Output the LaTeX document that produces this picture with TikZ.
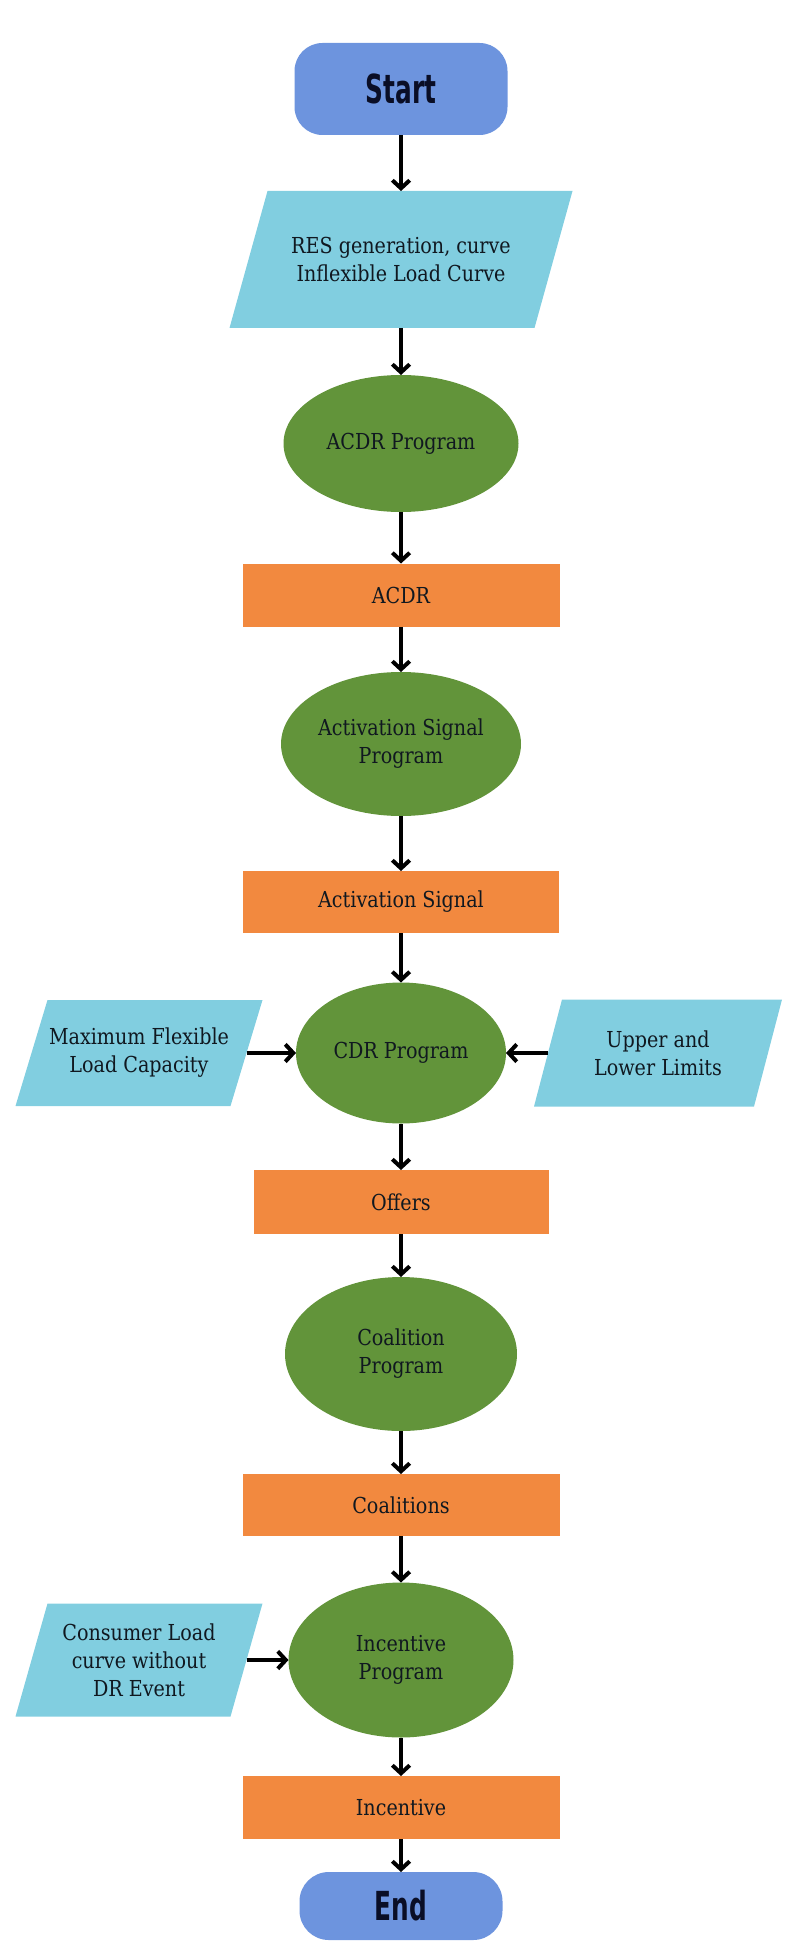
\documentclass[tikz,border=0pt]{standalone}
\usepackage{fontspec}
\setmainfont[FakeStretch=0.87]{DejaVu Serif}
\newfontfamily\termfont[FakeStretch=0.62]{DejaVu Sans}
\usetikzlibrary{shapes.geometric,arrows.meta,calc}
\pgfdeclarelayer{bg}
\pgfsetlayers{bg,main}
\definecolor{termblue}{HTML}{6D94DE}
\definecolor{inblue}{HTML}{81CEE0}
\definecolor{progreen}{HTML}{62943A}
\definecolor{outorange}{HTML}{F2893F}
\definecolor{txt}{HTML}{101820}
\definecolor{termtxt}{HTML}{0A0E26}
\begin{document}
\begin{tikzpicture}[x=0.75pt,y=-0.75pt,
  every node/.style={inner sep=0pt, outer sep=0pt, align=center,
    font=\fontsize{16.5}{21}\selectfont, text=txt},
  term/.style={rectangle, fill=termblue, rounded corners=21pt,
    font=\termfont\bfseries\fontsize{30}{30}\selectfont, text=termtxt},
  prog/.style={ellipse, fill=progreen},
  outbox/.style={rectangle, fill=outorange, minimum width=237.75pt, minimum height=47.25pt},
  inbox/.style={rectangle},
  arr/.style={line width=3pt, -{Straight Barb[length=6pt,width=13pt]}, black}
]
\useasboundingbox (0,0) rectangle (800,1947);

% terminals
\node[term, minimum width=159.75pt, minimum height=69pt] (start) at (401,89) {Start};
\node[term, minimum width=152.25pt, minimum height=51pt, rounded corners=22pt] (end) at (401,1906) {End};

% inputs (parallelograms)
\node[inbox, minimum width=228.75pt, minimum height=102.75pt] (res) at (401,259.5)
  {RES generation, curve\\ Inflexible Load Curve};
\node[inbox, minimum width=161.25pt, minimum height=79.5pt] (maxflex) at (139,1053)
  {Maximum Flexible\\Load Capacity};
\node[inbox, minimum width=165pt, minimum height=80.25pt] (limits) at (658,1053)
  {Upper and\\Lower Limits};
\node[inbox, minimum width=161.25pt, minimum height=84.75pt] (consumer) at (139,1660)
  {Consumer Load\\curve without\\DR Event};

\begin{pgfonlayer}{bg}
\fill[inblue] ($(res.north west)+(19,0)$) -- ($(res.north east)+(19,0)$)
  -- ($(res.south east)+(-19,0)$) -- ($(res.south west)+(-19,0)$) -- cycle;
\fill[inblue] ($(maxflex.north west)+(16,0)$) -- ($(maxflex.north east)+(16,0)$)
  -- ($(maxflex.south east)+(-16,0)$) -- ($(maxflex.south west)+(-16,0)$) -- cycle;
\fill[inblue] ($(limits.north west)+(14,0)$) -- ($(limits.north east)+(14,0)$)
  -- ($(limits.south east)+(-14,0)$) -- ($(limits.south west)+(-14,0)$) -- cycle;
\fill[inblue] ($(consumer.north west)+(16,0)$) -- ($(consumer.north east)+(16,0)$)
  -- ($(consumer.south east)+(-16,0)$) -- ($(consumer.south west)+(-16,0)$) -- cycle;
\end{pgfonlayer}

% programs
\node[prog, minimum width=176.25pt, minimum height=102.75pt] (acdrp) at (401,443.5) {ACDR Program};
\node[prog, minimum width=180pt, minimum height=108pt] (actp) at (401,744) {Activation Signal\\Program};
\node[prog, minimum width=157.5pt, minimum height=105.75pt] (cdrp) at (401,1053) {CDR Program};
\node[prog, minimum width=174pt, minimum height=115.5pt] (coalp) at (401,1354) {Coalition\\Program};
\node[prog, minimum width=168.75pt, minimum height=116.25pt] (incp) at (401,1660) {Incentive\\Program};

% outputs
\node[outbox] (acdr) at (401,595) {ACDR};
\node[outbox, minimum width=237pt, minimum height=46.5pt] (acts) at (401,902) {Activation Signal};
\node[outbox, minimum width=221.25pt, minimum height=48pt] (offers) at (401,1202) {Offers};
\node[outbox, minimum height=46.5pt] (coals) at (401,1505) {Coalitions};
\node[outbox] (inc) at (401,1807.5) {Incentive};

% connectors
\draw[arr] (start) -- (res);
\draw[arr] (res) -- (acdrp);
\draw[arr] (acdrp) -- (acdr);
\draw[arr] (acdr) -- (actp);
\draw[arr] (actp) -- (acts);
\draw[arr] (acts) -- (cdrp);
\draw[arr] (maxflex) -- (cdrp);
\draw[arr] (limits) -- (cdrp);
\draw[arr] (cdrp) -- (offers);
\draw[arr] (offers) -- (coalp);
\draw[arr] (coalp) -- (coals);
\draw[arr] (coals) -- (incp);
\draw[arr] (consumer) -- (incp);
\draw[arr] (incp) -- (inc);
\draw[arr] (inc) -- (end);
\end{tikzpicture}
\end{document}
